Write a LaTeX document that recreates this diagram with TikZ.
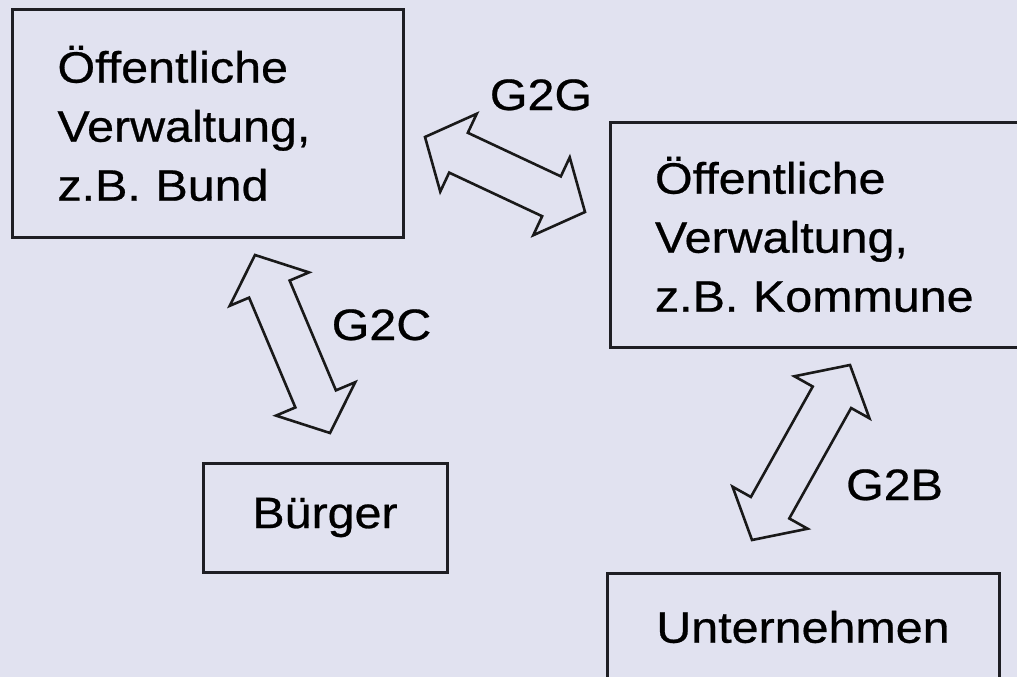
\documentclass[tikz,border=0pt]{standalone}
\usepackage{fontspec}
\setmainfont{Liberation Sans}[FakeStretch=1.1,FakeBold=0.6]
\usetikzlibrary{calc}
\definecolor{bgcol}{RGB}{225,226,240}
\definecolor{boxline}{RGB}{30,30,36}
\tikzset{
  govbox/.style={draw=boxline, line width=3pt, fill=bgcol, rectangle, inner sep=0pt,
    font=\fontsize{44}{59}\selectfont},
  glabel/.style={anchor=base, inner sep=0pt, font=\fontsize{44}{59}\selectfont},
  blockarrow/.style={draw=black!90, line width=2.6pt, fill=bgcol, line join=miter},
}
\newcommand\gblockarrow[2]{%
  \path[blockarrow] (#1)
    -- ($(#1)!37pt!(#2)!43pt!90:(#2)$)
    -- ($(#1)!37pt!(#2)!22pt!90:(#2)$)
    -- ($(#2)!37pt!(#1)!22pt!-90:(#1)$)
    -- ($(#2)!37pt!(#1)!43pt!-90:(#1)$)
    -- (#2)
    -- ($(#2)!37pt!(#1)!43pt!90:(#1)$)
    -- ($(#2)!37pt!(#1)!22pt!90:(#1)$)
    -- ($(#1)!37pt!(#2)!22pt!-90:(#2)$)
    -- ($(#1)!37pt!(#2)!43pt!-90:(#2)$)
    -- cycle;}
\begin{document}
\begin{tikzpicture}[x=1pt,y=-1pt]
  \fill[bgcol] (0,0) rectangle (1017,677);
  \useasboundingbox (0,0) rectangle (1017,677);
  % boxes
  \node[govbox, minimum width=391pt, minimum height=227pt, text width=300pt, align=left]
    (bund) at (207.5,123.5) {Öffentliche\\Verwaltung,\\z.B. Bund};
  \node[govbox, minimum width=420pt, minimum height=225pt, text width=330pt, align=left]
    (kommune) at (820,234.5) {Öffentliche\\Verwaltung,\\z.B. Kommune};
  \node[govbox, minimum width=244pt, minimum height=109pt] (buerger) at (325,517.5) {Bürger};
  \node[govbox, minimum width=392pt, minimum height=108pt] (unternehmen) at (803,627) {Unternehmen};
  % arrow tips
  \coordinate (ggA) at (425,137);
  \coordinate (ggB) at (585,212);
  \coordinate (gcA) at (255,255);
  \coordinate (gcB) at (330,433);
  \coordinate (gbA) at (850,365);
  \coordinate (gbB) at (752,540);
  \gblockarrow{ggA}{ggB}
  \gblockarrow{gcA}{gcB}
  \gblockarrow{gbA}{gbB}
  % labels
  \node[glabel] (lgg) at (541,110) {G2G};
  \node[glabel] (lgc) at (381.5,340) {G2C};
  \node[glabel] (lgb) at (894.5,500) {G2B};
\end{tikzpicture}
\end{document}
